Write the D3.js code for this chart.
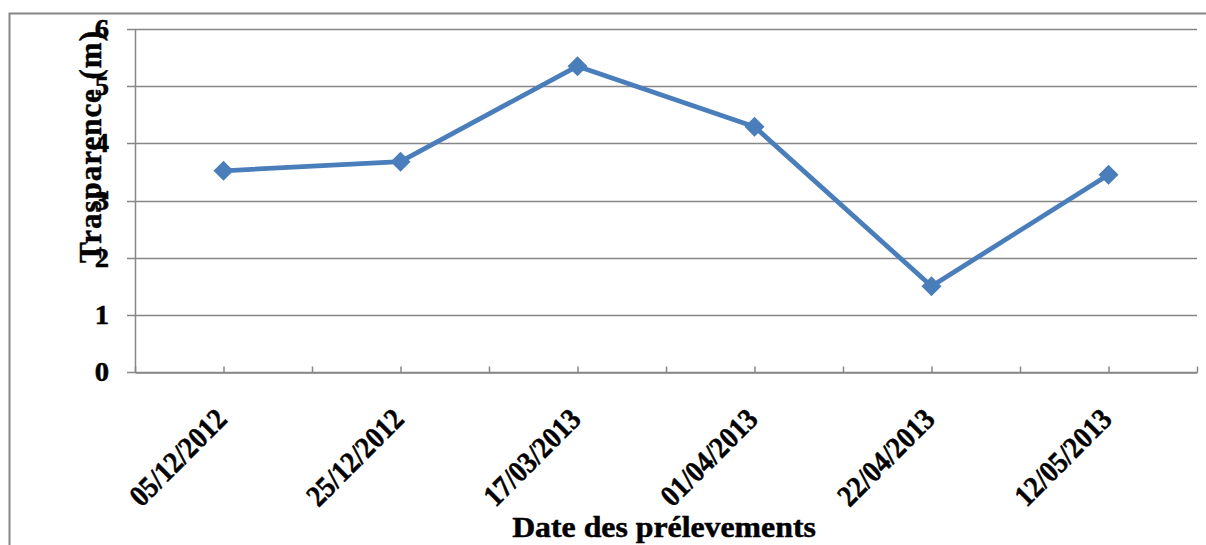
<!DOCTYPE html>
<html>
<head>
<meta charset="utf-8">
<script src="https://cdn.jsdelivr.net/npm/d3@7"></script>
<style>
  body { margin: 0; background: #fff; }
  svg text { font-family: "Liberation Serif", "Times New Roman", serif; font-weight: bold; fill: #000; stroke: #000; stroke-width: 0.5px; }
</style>
</head>
<body>
<svg id="chart" width="1206" height="545"></svg>
<script>
// data
const dates = ['05/12/2012', '25/12/2012', '17/03/2013', '01/04/2013', '22/04/2013', '12/05/2013'];
const transparence = [3.52, 3.68, 5.35, 4.29, 1.50, 3.45];
const yTicks = [0, 1, 2, 3, 4, 5, 6];

const plotLeft = 135, plotRight = 1197, plotTop = 29, plotBottom = 372;
const gray = '#868686';
const blue = '#4A7EBB';
const stretch = 1.06; // horizontal text in the source is a little wider

const svg = d3.select('#chart');

// outer frame (right / bottom edges fall outside the picture)
svg.append('path')
  .attr('d', 'M9.5,545 V13.5 H1206')
  .attr('fill', 'none')
  .attr('stroke', gray)
  .attr('stroke-width', 2);

const x = d3.scaleBand().domain(dates).range([plotLeft, plotRight]).paddingInner(0).paddingOuter(0);
const xi = d3.scaleLinear().domain([0, dates.length]).range([plotLeft, plotRight]);
const y = d3.scaleLinear().domain([0, 6]).range([plotBottom, plotTop]);

// horizontal gridlines (with the outside tick part)
svg.append('g')
  .selectAll('line')
  .data(yTicks)
  .join('line')
  .attr('x1', plotLeft - 8)
  .attr('x2', plotRight)
  .attr('y1', d => Math.round(y(d)) + 0.5)
  .attr('y2', d => Math.round(y(d)) + 0.5)
  .attr('stroke', gray)
  .attr('stroke-width', 1.5);

// y axis line
svg.append('line')
  .attr('x1', plotLeft + 0.5).attr('x2', plotLeft + 0.5)
  .attr('y1', y(6)).attr('y2', y(0))
  .attr('stroke', gray).attr('stroke-width', 1.5);

// x axis: ticks at every half category, pointing up
const xAxis = d3.axisBottom(xi)
  .tickValues(d3.range(0, dates.length + 0.01, 0.5))
  .tickSize(-6)
  .tickSizeOuter(0)
  .tickFormat('');
const gx = svg.append('g')
  .attr('transform', `translate(0,${Math.round(y(0)) + 0.5})`)
  .call(xAxis);
gx.selectAll('line, path').attr('stroke', gray).attr('stroke-width', 1.5);

// y tick labels
svg.append('g')
  .selectAll('text')
  .data(yTicks)
  .join('text')
  .attr('transform', d => `translate(109,${y(d) + 9}) scale(${stretch},1)`)
  .attr('text-anchor', 'end')
  .style('font-size', '27px')
  .text(d => d);

// x category labels, rotated 45 degrees (glyphs are narrow in the source)
svg.append('g')
  .selectAll('text')
  .data(dates)
  .join('text')
  .attr('transform', d => `translate(${x(d) + x.bandwidth() / 2 + 5},${plotBottom + 49}) rotate(-45) scale(0.9,1)`)
  .attr('text-anchor', 'end')
  .style('font-size', '30px')
  .text(d => d);

// axis titles
svg.append('text')
  .attr('transform', 'translate(101,147) rotate(-90)')
  .attr('text-anchor', 'middle')
  .attr('textLength', 232)
  .attr('lengthAdjust', 'spacing')
  .style('font-size', '31px')
  .text('Trasparence (m)');

svg.append('text')
  .attr('transform', `translate(664,537) scale(${stretch},1)`)
  .attr('text-anchor', 'middle')
  .style('font-size', '30px')
  .text('Date des prélevements');

// series line
const line = d3.line()
  .x((d, i) => x(dates[i]) + x.bandwidth() / 2)
  .y(d => y(d));

svg.append('path')
  .datum(transparence)
  .attr('d', line)
  .attr('fill', 'none')
  .attr('stroke', blue)
  .attr('stroke-width', 4.8)
  .attr('stroke-linejoin', 'round');

// diamond markers
svg.append('g')
  .selectAll('path')
  .data(transparence)
  .join('path')
  .attr('d', d3.symbol(d3.symbolSquare, 200))
  .attr('transform', (d, i) => `translate(${x(dates[i]) + x.bandwidth() / 2},${y(d)}) rotate(45)`)
  .attr('fill', blue);
</script>
</body>
</html>
